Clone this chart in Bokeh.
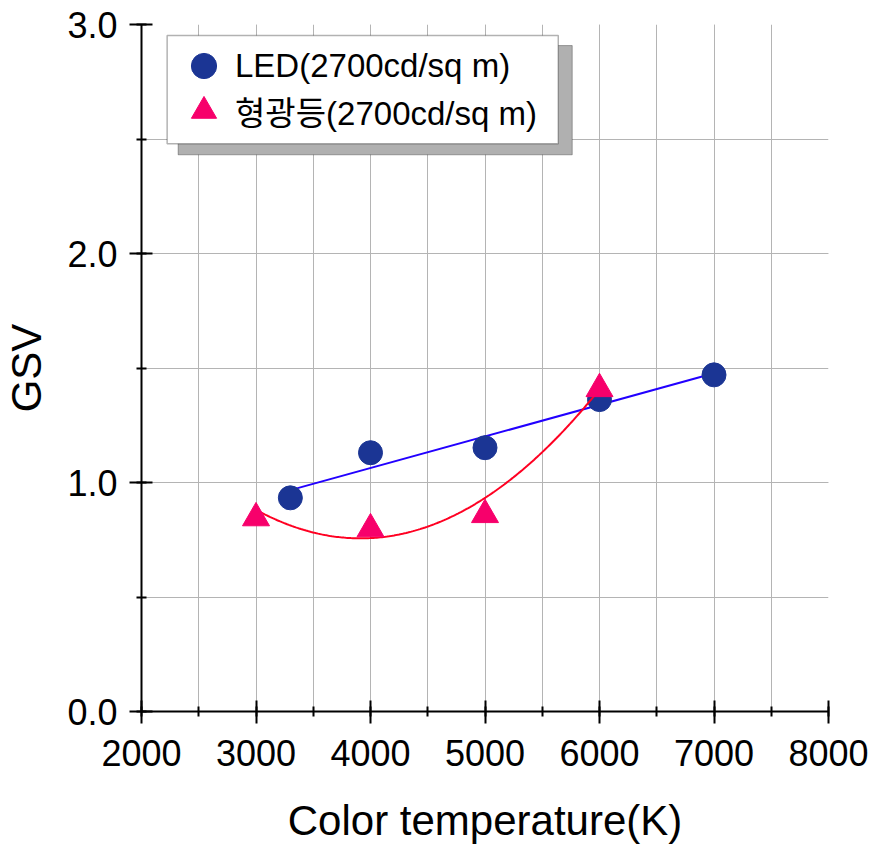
import numpy as np
from bokeh.plotting import figure
from bokeh.models import (SingleIntervalTicker, PrintfTickFormatter, Range1d, Legend,
                          LegendItem, BoxAnnotation, ColumnDataSource)
from bokeh.transform import dodge
from bokeh.embed import file_html
from bokeh.resources import INLINE

# ---- data ----
led_temp = [3300, 4000, 5000, 6000, 7000]
led_gsv = [0.933, 1.130, 1.152, 1.362, 1.470]
fl_temp = [3000, 4000, 5000, 6000]
fl_gsv = [0.862, 0.814, 0.876, 1.426]

led_label = "LED(2700cd/sq m)"
fl_label = "형광등(2700cd/sq m)"
x_title = "Color temperature(K)"
y_title = "GSV"

FONT = "Liberation Sans, Noto Sans CJK KR"

p = figure(width=870, height=848,
           x_range=Range1d(2000, 8000), y_range=Range1d(0, 3),
           output_backend="svg", toolbar_location=None,
           min_border_left=141, min_border_right=42,
           min_border_top=24, min_border_bottom=137)
p.outline_line_color = None
p.background_fill_color = "white"
p.border_fill_color = "white"

p.xaxis.ticker = SingleIntervalTicker(interval=1000, num_minor_ticks=2)
p.yaxis.ticker = SingleIntervalTicker(interval=1.0, num_minor_ticks=2)
p.yaxis.formatter = PrintfTickFormatter(format="%.1f")

for ax in p.axis:
    ax.axis_line_width = 2
    ax.axis_line_color = "black"
    ax.major_tick_line_width = 2
    ax.minor_tick_line_width = 2
    ax.major_tick_line_color = "black"
    ax.minor_tick_line_color = "black"
    ax.major_tick_in = 11
    ax.major_tick_out = 12
    ax.minor_tick_in = 5
    ax.minor_tick_out = 5
    ax.major_label_text_font = FONT
    ax.major_label_text_font_size = "36px"
    ax.major_label_text_color = "black"
    ax.axis_label_text_font = FONT
    ax.axis_label_text_font_size = "42px"
    ax.axis_label_text_font_style = "normal"
    ax.axis_label_text_color = "black"

p.xaxis.axis_label = x_title
p.yaxis.axis_label = y_title
p.xaxis.major_label_standoff = 16
p.xaxis.axis_label_standoff = 28
p.yaxis.major_label_standoff = 12
p.yaxis.axis_label_standoff = 14

for g in (p.xgrid, p.ygrid):
    g.grid_line_color = "#b4b4b4"
    g.grid_line_width = 1
    g.minor_grid_line_color = "#b4b4b4"
    g.minor_grid_line_width = 1

# ---- fits ----
lc = np.polyfit(led_temp, led_gsv, 1)
lx = np.array([min(led_temp), max(led_temp)], dtype=float)
p.line(lx, np.polyval(lc, lx), line_color="#2200ff", line_width=2)

r_led = p.scatter(led_temp, led_gsv, marker="circle", size=24,
                  fill_color="#1b3594", line_color="#1b3594")

fc = np.polyfit(np.array(fl_temp) / 1000.0, fl_gsv, 2)
fx = np.linspace(min(fl_temp), max(fl_temp), 200)
p.line(fx, np.polyval(fc, fx / 1000.0), line_color="#ff0022", line_width=2)

src = ColumnDataSource(dict(x=fl_temp, y=fl_gsv))
r_fl = p.scatter(x="x", y=dodge("y", -0.017, range=p.y_range), source=src,
                 marker="triangle", size=27,
                 fill_color="#f7006b", line_color="#f7006b")

# ---- legend box with shadow ----
shadow = BoxAnnotation(left=2320, right=5762, top=2.908, bottom=2.431,
                       fill_color="#b0b0b0", fill_alpha=1.0,
                       line_color="black", line_width=1)
p.add_layout(shadow)
box = BoxAnnotation(left=2224, right=5640, top=2.952, bottom=2.479,
                    fill_color="white", fill_alpha=1.0,
                    line_color="black", line_width=1.5)
p.add_layout(box)

common = dict(orientation="vertical", padding=0, spacing=0, margin=0,
              glyph_width=63, glyph_height=63, label_height=63,
              label_standoff=0, border_line_color=None,
              background_fill_alpha=0.0,
              label_text_font=FONT, label_text_font_size="33px",
              label_text_color="black")
leg1 = Legend(items=[LegendItem(label=led_label, renderers=[r_led])],
              location=(31, 614), **common)
leg2 = Legend(items=[LegendItem(label=fl_label, renderers=[r_fl])],
              location=(31, 569), **common)
p.add_layout(leg1)
p.add_layout(leg2)

open("out.html", "w").write(file_html(p, INLINE))
